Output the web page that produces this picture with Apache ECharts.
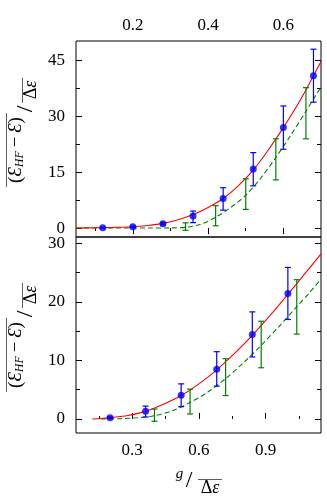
<!DOCTYPE html>
<html>
<head>
<meta charset="utf-8">
<script src="https://cdn.jsdelivr.net/npm/echarts@6/dist/echarts.min.js"></script>
<style>
html,body{margin:0;padding:0;background:#fff}
#main{width:327px;height:498px}
</style>
</head>
<body>
<div id="main"></div>
<script>
// upper panel: blue points with error bars, green error bars, two curves
const upBlueX = [0.12, 0.20, 0.28, 0.36, 0.44, 0.52, 0.60, 0.68];
const upBlueY = [0.1, 0.35, 1.15, 3.2, 7.9, 15.8, 26.9, 40.8];
const upBlueLo = [0.0, 0.2, 0.8, 1.45, 4.8, 11.3, 21.1, 33.7];
const upBlueHi = [0.2, 0.5, 1.5, 4.55, 10.8, 20.2, 32.7, 47.9];
const upGreenX = [0.34, 0.42, 0.50, 0.58, 0.66];
const upGreenLo = [-0.6, 0.6, 5.0, 12.9, 23.9];
const upGreenHi = [1.4, 6.0, 13.2, 23.9, 37.6];
const upRedX = [0.049, 0.10, 0.15, 0.20, 0.24, 0.28, 0.32, 0.36, 0.40, 0.44, 0.48, 0.52, 0.56, 0.60, 0.64, 0.68, 0.70];
const upRedY = [0.02, 0.08, 0.18, 0.35, 0.7, 1.25, 2.2, 3.6, 5.5, 7.9, 11.3, 15.5, 20.9, 26.9, 33.4, 40.8, 44.6];
const upDashX = [0.049, 0.15, 0.25, 0.30, 0.34, 0.38, 0.42, 0.46, 0.50, 0.54, 0.58, 0.62, 0.66, 0.70];
const upDashY = [0, 0, 0, 0.05, 0.2, 1.0, 2.9, 5.5, 8.8, 13.4, 18.9, 24.9, 31.3, 37.8];

// lower panel
const lowBlueX = [0.20, 0.36, 0.52, 0.68, 0.84, 1.00];
const lowBlueY = [0.22, 1.3, 4.04, 8.5, 14.45, 21.45];
const lowBlueLo = [0.1, 0.34, 2.1, 5.6, 10.6, 17.0];
const lowBlueHi = [0.35, 2.2, 6.0, 11.5, 18.3, 25.9];
const lowGreenX = [0.40, 0.56, 0.72, 0.88, 1.04];
const lowGreenLo = [-0.4, 0.85, 4.0, 8.75, 14.5];
const lowGreenHi = [1.7, 5.1, 10.3, 16.7, 23.8];
const lowRedX = [0.12, 0.16, 0.20, 0.28, 0.36, 0.44, 0.52, 0.60, 0.68, 0.76, 0.84, 0.92, 1.00, 1.08, 1.149];
const lowRedY = [0.0, 0.08, 0.22, 0.6, 1.3, 2.5, 4.0, 6.0, 8.4, 11.2, 14.3, 17.7, 21.3, 25.0, 28.2];
const lowDashX = [0.16, 0.25, 0.32, 0.40, 0.48, 0.56, 0.64, 0.72, 0.80, 0.88, 0.96, 1.04, 1.10, 1.149];
const lowDashY = [0, 0.05, 0.2, 0.55, 1.4, 2.8, 4.6, 6.9, 9.6, 12.6, 15.8, 19.2, 21.7, 23.9];

// ticks
const upXTicks = [0.2, 0.4, 0.6];
const upXMinor = [0.1, 0.3, 0.5];
const upYTicks = [0, 15, 30, 45];
const upYMinor = [7.5, 22.5, 37.5];
const lowXTicks = [0.3, 0.6, 0.9];
const lowXMinor = [0.15, 0.45, 0.75, 1.05];
const lowYTicks = [0, 10, 20, 30];
const lowYMinor = [5, 15, 25];

const FONT = 'Liberation Serif';
const BLUE = '#0000ff', GREEN = '#008000', RED = '#ff0000';

function pairs(xs, ys) { return xs.map((x, i) => [x, ys[i]]); }
function bars(xs, lo, hi) { return xs.map((x, i) => [x, lo[i], hi[i]]); }

// one axis: ticks from a list, optional labels
function axis(grid, pos, min, max, ticks, len, labels, margin) {
  return {
    type: 'value', gridIndex: grid, position: pos, min: min, max: max,
    axisLine: {show: false},
    splitLine: {show: false},
    axisTick: {show: true, inside: true, length: len, customValues: ticks,
      lineStyle: {color: '#000', width: 1}},
    axisLabel: labels ? {show: true, customValues: ticks, margin: margin,
      fontFamily: FONT, fontSize: 17, color: '#000'} : {show: false}
  };
}

function errorBars(color) {
  return function (params, api) {
    const x = api.value(0);
    const a = api.coord([x, api.value(1)]);
    const b = api.coord([x, api.value(2)]);
    const w = 3;
    const st = {stroke: color, lineWidth: 1.2};
    return {type: 'group', children: [
      {type: 'line', shape: {x1: a[0], y1: a[1], x2: b[0], y2: b[1]}, style: st},
      {type: 'line', shape: {x1: a[0] - w, y1: a[1], x2: a[0] + w, y2: a[1]}, style: st},
      {type: 'line', shape: {x1: b[0] - w, y1: b[1], x2: b[0] + w, y2: b[1]}, style: st}
    ]};
  };
}

const chart = echarts.init(document.getElementById('main'));

const xAxes = [
  axis(0, 'top', 0.049, 0.70, upXTicks, 6, true, 7),
  axis(0, 'top', 0.049, 0.70, upXMinor, 3, false),
  axis(1, 'bottom', 0.047, 1.149, lowXTicks, 6, true, 9),
  axis(1, 'bottom', 0.047, 1.149, lowXMinor, 3, false)
];
const yAxes = [
  axis(0, 'left', -2.4, 50.1, upYTicks, 6, true, 11),
  axis(0, 'left', -2.4, 50.1, upYMinor, 4, false),
  axis(0, 'right', -2.4, 50.1, upYTicks, 6, false),
  axis(0, 'right', -2.4, 50.1, upYMinor, 4, false),
  axis(1, 'left', -2.4, 31.1, lowYTicks, 6, true, 11),
  axis(1, 'left', -2.4, 31.1, lowYMinor, 4, false),
  axis(1, 'right', -2.4, 31.1, lowYTicks, 6, false),
  axis(1, 'right', -2.4, 31.1, lowYMinor, 4, false)
];

function panelSeries(xi, yi, dash, red, gLo, gHi, gX, bX, bY, bLo, bHi) {
  return [
    {type: 'line', xAxisIndex: xi, yAxisIndex: yi, data: dash, smooth: 0.3, showSymbol: false,
      lineStyle: {color: GREEN, width: 1.1, type: [5, 3]}, z: 2},
    {type: 'line', xAxisIndex: xi, yAxisIndex: yi, data: red, smooth: 0.3, showSymbol: false,
      lineStyle: {color: RED, width: 1.1}, z: 3},
    {type: 'custom', xAxisIndex: xi, yAxisIndex: yi, renderItem: errorBars(GREEN),
      data: bars(gX, gLo, gHi), encode: {x: 0, y: [1, 2]}, z: 4},
    {type: 'custom', xAxisIndex: xi, yAxisIndex: yi, renderItem: errorBars(BLUE),
      data: bars(bX, bLo, bHi), encode: {x: 0, y: [1, 2]}, z: 5},
    {type: 'scatter', xAxisIndex: xi, yAxisIndex: yi, data: pairs(bX, bY), symbol: 'circle',
      symbolSize: 7, itemStyle: {color: BLUE}, z: 6}
  ];
}

const rich = {
  n: {fontFamily: FONT, fontSize: 19, fill: '#000'},
  e: {fontFamily: FONT, fontSize: 19, fontStyle: 'italic', fill: '#000'},
  s: {fontFamily: FONT, fontSize: 12, fontStyle: 'italic', fill: '#000', verticalAlign: 'bottom', padding: [8, 0, 0, 0]},
  d: {fontFamily: FONT, fontSize: 18, fill: '#000'},
  de: {fontFamily: FONT, fontSize: 18, fontStyle: 'italic', fill: '#000'}
};

function yName(cy) {
  // numerator, slash, denominator, overlines (text rotated to read upwards)
  return [
    {type: 'text', x: 16, y: cy + 18, rotation: Math.PI / 2, silent: true,
      style: {text: '{n|(}{e|Ɛ}{s|HF}{n|\u2009−\u2009}{e|Ɛ}{n|)}', rich: rich, align: 'center', verticalAlign: 'middle'}},
    {type: 'line', silent: true, shape: {x1: 6.5, y1: cy - 19, x2: 6.5, y2: cy + 55}, style: {stroke: '#333', lineWidth: 0.8}},
    {type: 'text', x: 26, y: cy - 23, rotation: Math.PI / 2, silent: true,
      style: {text: '/', font: '24px "Liberation Serif"', fill: '#000', align: 'center', verticalAlign: 'middle'}},
    {type: 'text', x: 31, y: cy - 42, rotation: Math.PI / 2, silent: true,
      style: {text: '{d|Δ}{de|ε}', rich: rich, align: 'center', verticalAlign: 'middle'}},
    {type: 'line', silent: true, shape: {x1: 22.5, y1: cy - 54, x2: 22.5, y2: cy - 29}, style: {stroke: '#333', lineWidth: 0.8}}
  ];
}

chart.setOption({
  animation: false,
  backgroundColor: '#fff',
  grid: [
    {left: 76, top: 41, width: 245, height: 196, show: true, borderColor: '#000', borderWidth: 1, containLabel: false, outerBoundsMode: 'none'},
    {left: 76, top: 237, width: 245, height: 196, show: true, borderColor: '#000', borderWidth: 1, containLabel: false, outerBoundsMode: 'none'}
  ],
  xAxis: xAxes,
  yAxis: yAxes,
  series: [].concat(
    panelSeries(0, 0, pairs(upDashX, upDashY), pairs(upRedX, upRedY), upGreenLo, upGreenHi, upGreenX,
      upBlueX, upBlueY, upBlueLo, upBlueHi),
    panelSeries(2, 4, pairs(lowDashX, lowDashY), pairs(lowRedX, lowRedY), lowGreenLo, lowGreenHi, lowGreenX,
      lowBlueX, lowBlueY, lowBlueLo, lowBlueHi)
  ),
  graphic: [].concat(
    yName(132),
    yName(337),
    [
      {type: 'text', x: 179.5, y: 474, silent: true,
        style: {text: 'g', font: 'italic 15px "Liberation Serif"', fill: '#000', align: 'center', verticalAlign: 'middle'}},
      {type: 'text', x: 189, y: 481, silent: true,
        style: {text: '/', font: '24px "Liberation Serif"', fill: '#000', align: 'center', verticalAlign: 'middle'}},
      {type: 'text', x: 210, y: 488, silent: true,
        style: {text: '{d|Δ}{de|ε}', rich: rich, align: 'center', verticalAlign: 'middle'}},
      {type: 'line', silent: true, shape: {x1: 198, y1: 479.5, x2: 222, y2: 479.5}, style: {stroke: '#333', lineWidth: 0.8}}
    ]
  )
});
</script>
</body>
</html>
